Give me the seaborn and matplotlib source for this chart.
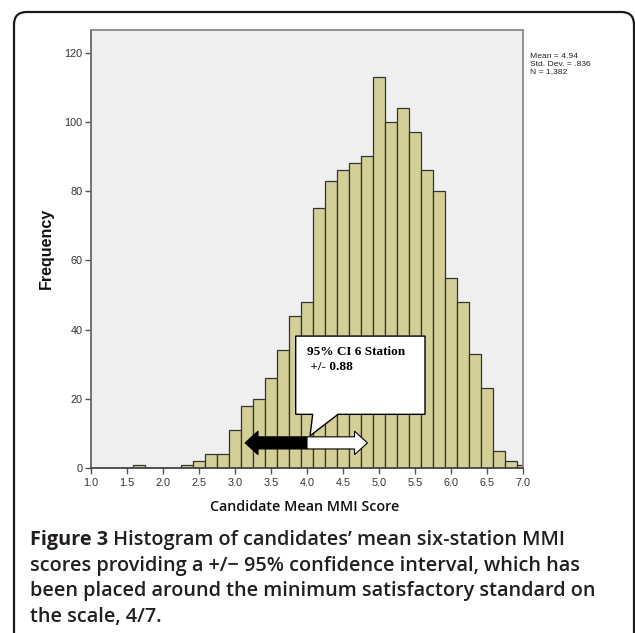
import numpy as np
import pandas as pd
import matplotlib
matplotlib.use("Agg")
import matplotlib.pyplot as plt
import seaborn as sns
from matplotlib.patches import FancyArrow, Polygon, FancyBboxPatch

# ---- data ----
# bins are centred on multiples of 1/6 (mean of six station scores)
bin_centres = np.arange(10, 43) / 6.0          # 1.667 ... 7.0
counts = [1, 0, 0, 0, 1, 2, 4, 4, 11, 18, 20, 26, 34, 44, 48,
          75, 83, 86, 88, 90, 113, 100, 104, 97, 86, 80,
          55, 48, 33, 23, 5, 2, 1]
bin_width = 1.0 / 6.0
x_ticks = [1.0, 1.5, 2.0, 2.5, 3.0, 3.5, 4.0, 4.5, 5.0, 5.5, 6.0, 6.5, 7.0]
y_ticks = [0, 20, 40, 60, 80, 100, 120]
stats_lines = ["Mean = 4.94", "Std. Dev. = .836", "N = 1,382"]
ci_centre = 4.0
ci_half = 0.88
callout_lines = ["95% CI 6 Station", " +/- 0.88"]
x_label = "Candidate Mean MMI Score"
y_label = "Frequency"
caption_bold = "Figure 3"
caption_lines = [" Histogram of candidates\u2019 mean six-station MMI",
                 "scores providing a +/\u2212 95% confidence interval, which has",
                 "been placed around the minimum satisfactory standard on",
                 "the scale, 4/7."]

df = pd.DataFrame({"score": bin_centres, "n": counts})

W, H = 635, 633
fig = plt.figure(figsize=(W / 100, H / 100), dpi=100)
fig.patch.set_facecolor("white")

def fx(px):
    return px / W

def fy(py):
    return 1 - py / H

# outer rounded frame
frame = FancyBboxPatch((fx(14), fy(660)), fx(634) - fx(14), fy(12) - fy(660),
                       boxstyle="round,pad=0,rounding_size=0.02",
                       transform=fig.transFigure, facecolor="none",
                       edgecolor="#1a1a1a", linewidth=1.6, zorder=0)
fig.patches.append(frame)

ax = fig.add_axes([fx(91), fy(468), fx(523) - fx(91), fy(30) - fy(468)])
ax.set_facecolor("#EFEFEF")

sns.histplot(data=df, x="score", weights="n", binwidth=bin_width,
             binrange=(bin_centres[0] - bin_width / 2,
                       bin_centres[-1] + bin_width / 2),
             ax=ax, color="#D4CF97", edgecolor="#333333", linewidth=0.9,
             alpha=1.0)

ax.set_xlim(1.0, 7.0)
ax.set_ylim(0, 126.5)
ax.set_xticks(x_ticks)
ax.set_xticklabels([f"{t:.1f}" for t in x_ticks])
ax.set_yticks(y_ticks)
ax.set_yticklabels([str(t) for t in y_ticks])
ax.set_xlabel("")
ax.set_ylabel("")
for lab in ax.get_xticklabels() + ax.get_yticklabels():
    lab.set_fontfamily("Liberation Sans")
    lab.set_fontsize(7.8)
    lab.set_color("#333333")
ax.tick_params(axis="both", direction="out", length=4, width=1.0,
               color="#555555", pad=2)
ax.tick_params(axis="x", pad=3.5)
for sp in ax.spines.values():
    sp.set_color("#8a8a8a")
    sp.set_linewidth(1.3)
ax.spines["bottom"].set_color("#444444")
ax.spines["left"].set_color("#666666")

# CI arrows
arrow_y = 7.25
black = FancyArrow(ci_centre, arrow_y, -(ci_centre - 3.14), 0, width=3.5,
                   head_width=6.8, head_length=0.18,
                   length_includes_head=True, facecolor="black",
                   edgecolor="black", linewidth=0.8, zorder=5)
white = FancyArrow(ci_centre, arrow_y, 4.84 - ci_centre, 0, width=3.5,
                   head_width=6.8, head_length=0.18,
                   length_includes_head=True, facecolor="white",
                   edgecolor="black", linewidth=0.8, zorder=5)
ax.add_patch(black)
ax.add_patch(white)

# callout box with pointer
bx0, bx1, by0, by1 = 3.843, 5.639, 15.5, 38.1
callout = Polygon([(bx0, by0), (4.079, by0), (4.042, 9.3), (4.431, by0),
                   (bx1, by0), (bx1, by1), (bx0, by1)], closed=True,
                  facecolor="white", edgecolor="black", linewidth=1.0,
                  zorder=6)
ax.add_patch(callout)
ax.text(4.0, 33.5, callout_lines[0], family="Liberation Serif",
        weight="bold", fontsize=9.5, va="center", ha="left", zorder=7)
ax.text(4.0, 29.2, callout_lines[1], family="Liberation Serif",
        weight="bold", fontsize=9.5, va="center", ha="left", zorder=7)

# stats text
for i, s in enumerate(stats_lines):
    fig.text(fx(530), fy(57 + 7.5 * i), s, family="Liberation Sans",
             fontsize=6.1, va="center", ha="left", color="#222222")

# axis labels
fig.text(fx(46), fy(248), y_label, rotation=90, family="Liberation Sans",
         weight="bold", fontsize=11.5, va="center", ha="center",
         color="#111111")
fig.text(fx(305), fy(507), x_label, family="Open Sans", weight="semibold",
         fontsize=10.3, va="center", ha="center", color="#111111")

# caption
cap_font = dict(family="Open Sans", fontsize=14.3, color="#231f20")
t0 = fig.text(fx(30), fy(545), caption_bold, weight="bold", va="baseline",
              ha="left", **cap_font)
fig.canvas.draw()
bb = t0.get_window_extent()
fig.text(bb.x1 / W, fy(545), caption_lines[0], weight="semibold",
         va="baseline", ha="left", **cap_font)
for i, line in enumerate(caption_lines[1:]):
    fig.text(fx(30), fy(570.5 + 25.8 * i), line, weight="semibold",
             va="baseline", ha="left", **cap_font)

fig.savefig("out.png", dpi=100)
